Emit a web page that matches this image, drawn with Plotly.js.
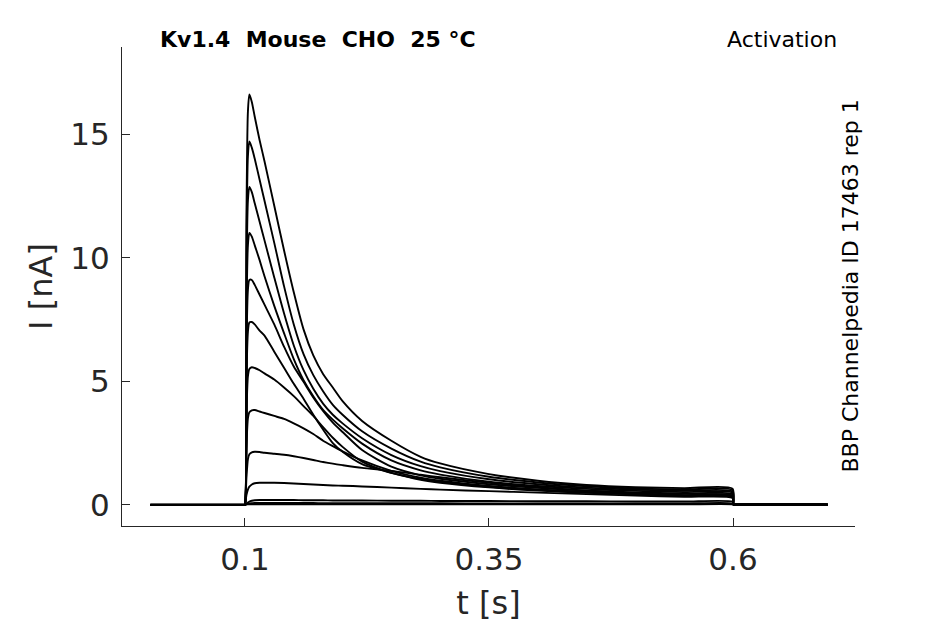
<!DOCTYPE html>
<html>
<head>
<meta charset="utf-8">
<script src="https://cdn.plot.ly/plotly-3.0.1.min.js"></script>
<style>
  html, body { margin: 0; padding: 0; background: #fff; }
  #chart { width: 945px; height: 624px; }
</style>
</head>
<body>
<div id="chart"></div>
<script>
// sample times [s], shared by every sweep
const tSec = [0.003, 0.0995, 0.1, 0.1015, 0.103, 0.1045, 0.107, 0.11, 0.115, 0.12,
              0.13, 0.14, 0.15, 0.16, 0.17, 0.18, 0.19, 0.2, 0.22, 0.25,
              0.28, 0.3, 0.35, 0.4, 0.45, 0.5, 0.55, 0.5995, 0.6005, 0.603, 0.697];

// current [nA] per sweep
const sweep01 = [0, 0, 0, 11.5, 15.9, 16.6, 16.3, 15.7, 14.75, 13.9, 12.1, 10.3, 8.6, 7.1, 6.05, 5.3, 4.75, 4.2, 3.4, 2.6, 1.95, 1.68, 1.25, 0.98, 0.81, 0.72, 0.68, 0.66, 0.03, 0.02, 0.01];
const sweep02 = [0, 0, 0, 10.2, 14.1, 14.7, 14.45, 14.0, 13.15, 12.3, 10.6, 8.85, 7.3, 6.1, 5.25, 4.6, 4.05, 3.65, 2.98, 2.28, 1.75, 1.52, 1.14, 0.91, 0.76, 0.67, 0.62, 0.6, 0.03, 0.02, 0.01];
const sweep03 = [0, 0, 0, 8.9, 12.3, 12.86, 12.65, 12.2, 11.45, 10.7, 9.2, 7.75, 6.45, 5.45, 4.7, 4.1, 3.65, 3.3, 2.7, 2.02, 1.57, 1.37, 1.04, 0.84, 0.7, 0.62, 0.57, 0.54, 0.02, 0.02, 0.01];
const sweep04 = [0, 0, 0, 7.6, 10.5, 11.0, 10.85, 10.5, 9.9, 9.25, 8.05, 6.95, 5.9, 5.05, 4.4, 3.85, 3.45, 3.1, 2.48, 1.8, 1.4, 1.23, 0.94, 0.77, 0.65, 0.57, 0.52, 0.49, 0.02, 0.02, 0.01];
const sweep05 = [0, 0, 0, 6.2, 8.7, 9.1, 9.1, 8.9, 8.5, 8.1, 7.3, 6.4, 5.6, 4.98, 4.35, 3.8, 3.33, 2.95, 2.22, 1.55, 1.2, 1.06, 0.84, 0.69, 0.58, 0.51, 0.46, 0.43, 0.02, 0.02, 0.01];
const sweep06 = [0, 0, 0, 5.0, 7.0, 7.38, 7.4, 7.3, 7.05, 6.85, 6.2, 5.55, 4.9, 4.3, 3.65, 3.05, 2.5, 2.15, 1.65, 1.3, 1.02, 0.9, 0.71, 0.58, 0.49, 0.43, 0.38, 0.35, 0.02, 0.02, 0.01];
const sweep07 = [0, 0, 0, 3.6, 5.2, 5.5, 5.57, 5.54, 5.45, 5.32, 5.07, 4.75, 4.4, 4.0, 3.6, 3.15, 2.72, 2.35, 1.75, 1.3, 1.05, 0.94, 0.74, 0.61, 0.51, 0.44, 0.39, 0.36, 0.02, 0.02, 0.01];
const sweep08 = [0, 0, 0, 2.3, 3.5, 3.75, 3.83, 3.84, 3.78, 3.72, 3.6, 3.48, 3.3, 3.1, 2.87, 2.6, 2.38, 2.17, 1.8, 1.38, 1.1, 0.98, 0.77, 0.63, 0.53, 0.45, 0.4, 0.37, 0.02, 0.02, 0.01];
const sweep09 = [0, 0, 0, 1.1, 1.85, 2.05, 2.13, 2.15, 2.14, 2.11, 2.07, 2.03, 1.97, 1.9, 1.82, 1.74, 1.67, 1.61, 1.5, 1.38, 1.22, 1.12, 0.9, 0.72, 0.58, 0.47, 0.38, 0.32, 0.02, 0.02, 0.01];
const sweep10 = [0, 0, 0, 0.4, 0.62, 0.74, 0.83, 0.88, 0.9, 0.9, 0.9, 0.89, 0.87, 0.85, 0.83, 0.81, 0.79, 0.78, 0.75, 0.7, 0.65, 0.62, 0.56, 0.5, 0.44, 0.38, 0.33, 0.28, 0.02, 0.02, 0.01];
const sweep11 = [0, 0, 0, 0.05, 0.1, 0.14, 0.17, 0.19, 0.2, 0.2, 0.2, 0.2, 0.2, 0.19, 0.19, 0.19, 0.18, 0.18, 0.18, 0.17, 0.17, 0.16, 0.16, 0.15, 0.15, 0.14, 0.14, 0.13, 0.02, 0.02, 0.01];
const sweep12 = [0.01, 0.01, 0.01, 0.03, 0.05, 0.06, 0.07, 0.08, 0.08, 0.08, 0.08, 0.08, 0.08, 0.08, 0.08, 0.07, 0.07, 0.07, 0.07, 0.07, 0.07, 0.07, 0.06, 0.06, 0.06, 0.06, 0.06, 0.06, 0.01, 0.01, 0.01];
const sweep13 = [0.02, 0.02, 0.02, 0.02, 0.03, 0.03, 0.03, 0.03, 0.03, 0.03, 0.03, 0.03, 0.03, 0.03, 0.03, 0.03, 0.03, 0.03, 0.03, 0.03, 0.03, 0.03, 0.03, 0.03, 0.03, 0.03, 0.03, 0.03, 0.02, 0.02, 0.02];

const sweeps = [sweep01, sweep02, sweep03, sweep04, sweep05, sweep06, sweep07,
                sweep08, sweep09, sweep10, sweep11, sweep12, sweep13];

const xTicks = [0.1, 0.35, 0.6];
const xTickText = ['0.1', '0.35', '0.6'];
const yTicks = [0, 5, 10, 15];

const titleText = 'Kv1.4\u00A0\u00A0Mouse\u00A0\u00A0CHO\u00A0\u00A025 °C';
const protocolText = 'Activation';
const sourceText = 'BBP Channelpedia ID 17463 rep 1';

const font = 'DejaVu Sans, sans-serif';
const ink = '#262626';

const data = sweeps.map(function (i) {
    return {
        x: tSec,
        y: i,
        type: 'scatter',
        mode: 'lines',
        line: { color: '#000000', width: 1.9, shape: 'spline', smoothing: 0.7 },
        hoverinfo: 'skip'
    };
});

const layout = {
    width: 945,
    height: 624,
    showlegend: false,
    paper_bgcolor: '#ffffff',
    plot_bgcolor: '#ffffff',
    margin: { l: 122, r: 90, t: 47, b: 98 },
    font: { family: font, color: ink },
    xaxis: {
        range: [-0.026, 0.725],
        tickvals: xTicks,
        ticktext: xTickText,
        ticks: 'inside',
        ticklen: 8,
        tickwidth: 1,
        tickcolor: ink,
        tickfont: { family: font, size: 31, color: ink },
        ticklabelstandoff: 6,
        showline: true,
        linecolor: ink,
        linewidth: 1,
        showgrid: false,
        zeroline: false,
        title: { text: 't [s]', font: { family: font, size: 32, color: ink }, standoff: 15 }
    },
    yaxis: {
        range: [-0.85, 18.52],
        tickvals: yTicks,
        ticks: 'inside',
        ticklen: 8,
        tickwidth: 1,
        tickcolor: ink,
        tickfont: { family: font, size: 31, color: ink },
        ticklabelstandoff: 5,
        showline: true,
        linecolor: ink,
        linewidth: 1,
        showgrid: false,
        zeroline: false,
        title: { text: 'I [nA]', font: { family: font, size: 32, color: ink }, standoff: 8 }
    },
    annotations: [
        {
            text: '<b>' + titleText + '</b>',
            xref: 'paper', yref: 'paper',
            x: 0.268, y: 1.0, yshift: 8,
            xanchor: 'center', yanchor: 'middle',
            showarrow: false,
            font: { family: font, size: 22, color: '#000000' }
        },
        {
            text: protocolText,
            xref: 'paper', yref: 'paper',
            x: 0.9, y: 1.0, yshift: 8,
            xanchor: 'center', yanchor: 'middle',
            showarrow: false,
            font: { family: font, size: 22, color: '#000000' }
        },
        {
            text: sourceText,
            xref: 'paper', yref: 'paper',
            x: 1.0, xshift: -5, y: 0.5, yshift: 0,
            xanchor: 'center', yanchor: 'middle',
            textangle: -90,
            showarrow: false,
            font: { family: font, size: 22, color: '#000000' }
        }
    ]
};

Plotly.newPlot('chart', data, layout, { staticPlot: true, displayModeBar: false });
</script>
</body>
</html>
